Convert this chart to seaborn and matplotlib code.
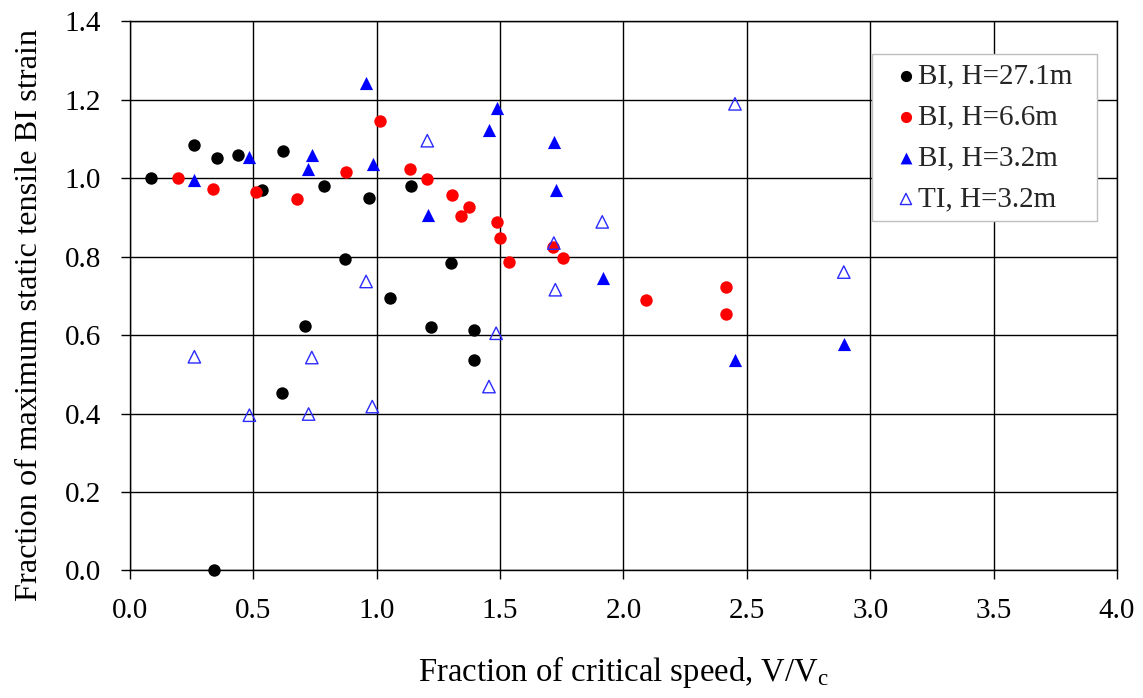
import matplotlib
matplotlib.use('Agg')
import matplotlib.pyplot as plt
import seaborn as sns
import pandas as pd

# ---- data ----
bi271_x = [0.086, 0.261, 0.351, 0.438, 0.536, 0.621, 0.787, 0.968, 1.141, 0.871,
           1.300, 1.053, 0.710, 1.222, 1.394, 1.394, 0.615, 0.341]
bi271_y = [1.000, 1.086, 1.051, 1.060, 0.971, 1.071, 0.981, 0.949, 0.981, 0.795,
           0.785, 0.694, 0.624, 0.620, 0.612, 0.536, 0.453, 0.000]

bi66_x = [0.195, 0.336, 0.511, 0.678, 0.876, 1.015, 1.136, 1.202, 1.306, 1.373,
          1.342, 1.487, 1.499, 1.535, 1.715, 1.753, 2.090, 2.414, 2.414]
bi66_y = [1.001, 0.974, 0.964, 0.948, 1.016, 1.146, 1.024, 0.998, 0.958, 0.926,
          0.903, 0.889, 0.849, 0.786, 0.824, 0.798, 0.690, 0.722, 0.655]

bi32_x = [0.261, 0.484, 0.722, 0.738, 0.956, 0.984, 1.206, 1.455, 1.486, 1.718,
          1.725, 1.917, 2.452, 2.893]
bi32_y = [0.997, 1.054, 1.025, 1.059, 1.242, 1.037, 0.906, 1.123, 1.180, 1.092,
          0.971, 0.746, 0.536, 0.578]

ti32_x = [1.205, 0.957, 2.452, 1.914, 1.718, 1.724, 1.484, 0.261, 0.737, 1.455,
          0.982, 0.484, 0.724, 2.893]
ti32_y = [1.096, 0.737, 1.190, 0.889, 0.835, 0.716, 0.605, 0.545, 0.543, 0.469,
          0.418, 0.396, 0.399, 0.761]

series_labels = ['BI, H=27.1m', 'BI, H=6.6m', 'BI, H=3.2m', 'TI, H=3.2m']
x_ticks = [0.0, 0.5, 1.0, 1.5, 2.0, 2.5, 3.0, 3.5, 4.0]
y_ticks = [0.0, 0.2, 0.4, 0.6, 0.8, 1.0, 1.2, 1.4]

# ---- style ----
sns.set_style('white')
plt.rcParams['font.family'] = ['Liberation Serif', 'DejaVu Serif']
plt.rcParams['mathtext.fontset'] = 'custom'
plt.rcParams['mathtext.rm'] = 'Liberation Serif'
plt.rcParams['mathtext.it'] = 'Liberation Serif:italic'

fig = plt.figure(figsize=(11.43, 6.98), dpi=100)
ax = fig.add_axes([0.1137, 0.1827, 0.8635, 0.7865])

common = dict(ax=ax, clip_on=False, zorder=3)
sns.scatterplot(x=bi271_x, y=bi271_y, color='black', marker='o', s=80,
                linewidth=0, label=series_labels[0], **common)
sns.scatterplot(x=bi66_x, y=bi66_y, color='#ff0000', marker='o', s=80,
                linewidth=0, label=series_labels[1], **common)
sns.scatterplot(x=bi32_x, y=bi32_y, color='#0000ff', marker='^', s=90,
                linewidth=0, label=series_labels[2], **common)
sns.scatterplot(x=ti32_x, y=ti32_y, color='#2a2aff', marker='^', s=80,
                linewidth=1.0, label=series_labels[3], **common)
coll = ax.collections[-1]
coll.set_facecolor('none')
coll.set_edgecolor('#2a2aff')
coll.set_linewidth(1.0)

ax.set_xlim(0, 4.0)
ax.set_ylim(0, 1.4)
ax.set_xticks(x_ticks)
ax.set_yticks(y_ticks)
ax.set_xticklabels([f'{v:.1f}' for v in x_ticks])
ax.set_yticklabels([f'{v:.1f}' for v in y_ticks])

ax.grid(True, color='black', linewidth=1.0)
ax.set_axisbelow(True)
for sp in ax.spines.values():
    sp.set_visible(True)
    sp.set_color('black')
    sp.set_linewidth(1.0)

ax.tick_params(axis='both', which='major', direction='out', length=6.7, width=1.0,
               color='black', labelsize=21, labelcolor='black',
               bottom=True, left=True)
ax.tick_params(axis='x', pad=13)
ax.tick_params(axis='y', pad=14)

ax.set_xlabel(r'Fraction of critical speed, V/V$_\mathregular{c}$', fontsize=23.6,
              labelpad=22, color='black')
ax.set_ylabel('Fraction of maximum static tensile BI strain', fontsize=23.3,
              color='black')
ax.yaxis.set_label_coords(-0.087, 0.4645)

leg = ax.legend(loc='upper left', bbox_to_anchor=(0.7518, 0.0, 0.228, 0.94),
                mode='expand', borderaxespad=0,
                frameon=True, fancybox=False, framealpha=1, edgecolor='#bfbfbf',
                fontsize=21, markerscale=0.9, handletextpad=-0.45,
                labelspacing=0.5, borderpad=0.3, handlelength=1.73)
leg.get_frame().set_linewidth(1.0)

fig.savefig('out.png', dpi=100)
